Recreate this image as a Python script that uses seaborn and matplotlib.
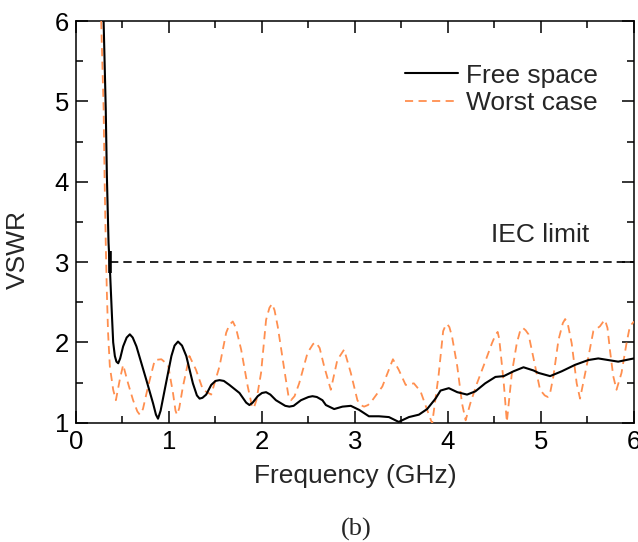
import matplotlib
matplotlib.use("Agg")
import matplotlib.pyplot as plt
import seaborn as sns
import pandas as pd

# Measured VSWR, antenna in free space
fs_freq = [0.297, 0.32, 0.332, 0.35, 0.368, 0.386, 0.40, 0.418, 0.435, 0.454,
           0.475, 0.507, 0.545, 0.579, 0.61, 0.65, 0.757, 0.829, 0.86, 0.882,
           0.91, 0.954, 1.026, 1.06, 1.097, 1.14, 1.186, 1.257, 1.30, 1.329,
           1.36, 1.40, 1.454, 1.50, 1.543, 1.59, 1.65, 1.758, 1.83, 1.865,
           1.90, 1.954, 2.00, 2.044, 2.09, 2.15, 2.25, 2.294, 2.34, 2.419,
           2.50, 2.543, 2.59, 2.65, 2.687, 2.776, 2.865, 2.955, 3.044, 3.15,
           3.258, 3.365, 3.47, 3.58, 3.687, 3.776, 3.866, 3.92, 4.009, 4.10,
           4.205, 4.294, 4.40, 4.51, 4.60, 4.705, 4.812, 4.92, 4.973, 5.098,
           5.223, 5.366, 5.509, 5.616, 5.723, 5.83, 5.956, 6.0]
fs_vswr = [6.0, 4.91, 4.08, 3.24, 2.83, 2.35, 2.0, 1.83, 1.76, 1.74,
           1.80, 1.95, 2.06, 2.10, 2.06, 1.95, 1.53, 1.24, 1.10, 1.05,
           1.15, 1.41, 1.83, 1.96, 2.01, 1.96, 1.83, 1.49, 1.34, 1.30,
           1.31, 1.35, 1.47, 1.52, 1.53, 1.52, 1.47, 1.37, 1.25, 1.22,
           1.25, 1.33, 1.37, 1.38, 1.35, 1.28, 1.21, 1.20, 1.21, 1.28,
           1.32, 1.33, 1.32, 1.28, 1.22, 1.17, 1.20, 1.21, 1.16, 1.08,
           1.08, 1.07, 1.01, 1.07, 1.10, 1.17, 1.30, 1.40, 1.43, 1.38,
           1.35, 1.39, 1.49, 1.57, 1.58, 1.64, 1.69, 1.65, 1.62, 1.58,
           1.64, 1.72, 1.78, 1.80, 1.78, 1.76, 1.79, 1.80]

# Measured VSWR, worst-case placement
wc_freq = [0.271, 0.297, 0.307, 0.32, 0.332, 0.345, 0.364, 0.40, 0.429, 0.47,
           0.507, 0.56, 0.614, 0.66, 0.686, 0.72, 0.775, 0.847, 0.918, 0.99,
           1.043, 1.07, 1.086, 1.11, 1.15, 1.22, 1.29, 1.365, 1.454, 1.543,
           1.615, 1.65, 1.686, 1.72, 1.776, 1.847, 1.89, 1.911, 1.94, 1.99,
           2.044, 2.08, 2.108, 2.135, 2.169, 2.24, 2.285, 2.312, 2.35, 2.40,
           2.49, 2.55, 2.58, 2.62, 2.669, 2.74, 2.81, 2.883, 2.955, 3.026,
           3.06, 3.098, 3.14, 3.187, 3.294, 3.408, 3.47, 3.545, 3.633, 3.705,
           3.776, 3.83, 3.90, 3.948, 3.97, 3.99, 4.015, 4.044, 4.10, 4.151,
           4.19, 4.24, 4.312, 4.40, 4.473, 4.51, 4.534, 4.55, 4.563, 4.60,
           4.633, 4.687, 4.74, 4.78, 4.805, 4.835, 4.866, 4.92, 4.99, 5.04,
           5.073, 5.10, 5.134, 5.188, 5.235, 5.26, 5.29, 5.33, 5.384, 5.42,
           5.49, 5.563, 5.634, 5.665, 5.688, 5.715, 5.741, 5.777, 5.812, 5.866,
           5.92, 5.956, 6.0]
wc_vswr = [6.0, 4.91, 4.08, 3.24, 2.62, 2.12, 1.70, 1.41, 1.28, 1.53,
           1.72, 1.49, 1.28, 1.14, 1.10, 1.17, 1.45, 1.78, 1.79, 1.72,
           1.37, 1.15, 1.10, 1.18, 1.45, 1.83, 1.66, 1.41, 1.35, 1.70,
           2.12, 2.22, 2.26, 2.18, 1.91, 1.45, 1.22, 1.18, 1.28, 1.62,
           2.28, 2.43, 2.48, 2.40, 2.20, 1.66, 1.33, 1.28, 1.33, 1.49,
           1.87, 1.98, 2.0, 1.93, 1.70, 1.41, 1.78, 1.91, 1.62, 1.28,
           1.22, 1.20, 1.22, 1.28, 1.45, 1.79, 1.66, 1.47, 1.49, 1.39,
           1.16, 0.99, 1.60, 2.14, 2.20, 2.23, 2.19, 2.07, 1.70, 1.24,
           1.03, 1.24, 1.49, 1.76, 1.99, 2.09, 2.13, 2.05, 1.91, 1.49,
           1.01, 1.62, 1.99, 2.16, 2.18, 2.15, 2.10, 1.80, 1.41, 1.34,
           1.32, 1.38, 1.58, 2.03, 2.24, 2.29, 2.22, 1.99, 1.49, 1.30,
           1.70, 2.14, 2.20, 2.25, 2.28, 2.18, 1.91, 1.58, 1.41, 1.62,
           1.99, 2.20, 2.26]

iec_limit = 3.0
iec_start = 0.365
x_ticks = [0, 1, 2, 3, 4, 5, 6]
y_ticks = [1, 2, 3, 4, 5, 6]

sns.set_style("ticks")
plt.rcParams["font.family"] = ["Liberation Sans", "DejaVu Sans"]
plt.rcParams["xtick.direction"] = "in"
plt.rcParams["ytick.direction"] = "in"

fig = plt.figure(figsize=(6.38, 5.42), dpi=100)
ax = fig.add_axes([0.1191, 0.2201, 0.8746, 0.7411])

fs = pd.DataFrame({"freq": fs_freq, "vswr": fs_vswr})
wc = pd.DataFrame({"freq": wc_freq, "vswr": wc_vswr})

sns.lineplot(data=fs, x="freq", y="vswr", ax=ax, color="black", lw=1.5,
             sort=False, estimator=None, label="Free space", zorder=4)
sns.lineplot(data=wc, x="freq", y="vswr", ax=ax, color="#FF8F4F", lw=1.3,
             sort=False, estimator=None, label="Worst case", zorder=3)
ax.lines[-1].set_dashes([4.5, 3])

# IEC limit reference line and crossing mark
ax.plot([iec_start, 6.0], [iec_limit, iec_limit], color="black", lw=1.2,
        dashes=[5, 3], zorder=2)
ax.plot([iec_start], [iec_limit], marker="|", ms=16, mew=2.6, color="black",
        zorder=5)
ax.text(4.46, 3.34, "IEC limit", fontsize=19, va="center", ha="left")

ax.set_xlim(0, 6)
ax.set_ylim(1, 6)
ax.set_xticks(x_ticks)
ax.set_yticks(y_ticks)
ax.set_xticks([0.5, 1.5, 2.5, 3.5, 4.5, 5.5], minor=True)
ax.set_yticks([1.5, 2.5, 3.5, 4.5, 5.5], minor=True)
ax.tick_params(which="both", top=True, right=True, width=1.1, labelsize=18.5,
               colors="black")
ax.tick_params(which="major", length=8.5, pad=5)
ax.tick_params(which="minor", length=5)
for sp in ax.spines.values():
    sp.set_linewidth(1.1)
    sp.set_color("black")

ax.set_xlabel("Frequency (GHz)", fontsize=19)
ax.set_ylabel("VSWR", fontsize=19)
ax.xaxis.set_label_coords(0.5, -0.103)
ax.yaxis.set_label_coords(-0.082, 0.43)

leg = ax.legend(loc="upper right", frameon=False, fontsize=19,
                handlelength=2.0, handletextpad=0.3, labelspacing=0.12,
                bbox_to_anchor=(0.954, 0.92), borderaxespad=0.0)

fig.text(0.558, 0.0225, "(b)", fontsize=19, ha="center", va="center",
         family=["Liberation Serif", "DejaVu Serif"])

fig.savefig("out.png", dpi=100)
